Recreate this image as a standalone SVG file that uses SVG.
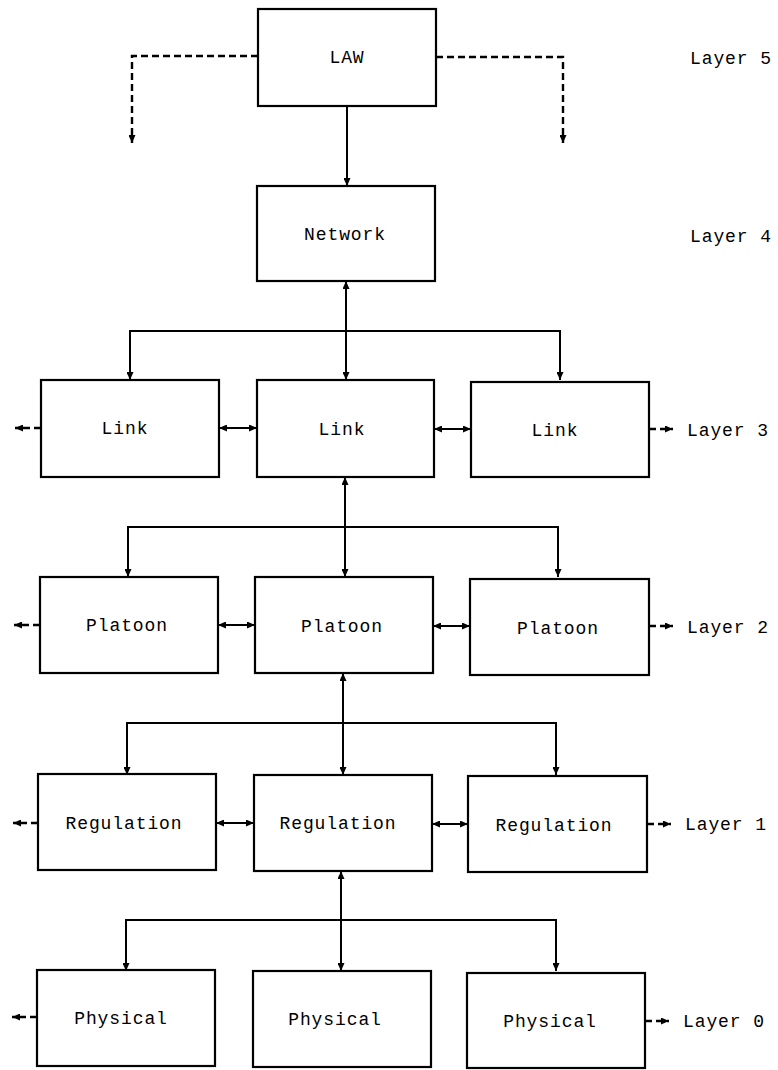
<svg xmlns="http://www.w3.org/2000/svg" width="778" height="1070" viewBox="0 0 778 1070">
  <defs>
    <style>
      .box { fill: #fff; stroke: #000; stroke-width: 2.2; }
      .lbl { font-family: "Liberation Mono", "DejaVu Sans Mono", monospace; font-size: 18px; letter-spacing: 0.9px; fill: #000; text-anchor: middle; }
      .lay { font-family: "Liberation Mono", "DejaVu Sans Mono", monospace; font-size: 18px; letter-spacing: 0.9px; fill: #000; }
      .wire { fill: none; stroke: #000; stroke-width: 2; }
      .dash { fill: none; stroke: #000; stroke-width: 2.4; stroke-dasharray: 7 4; }
    </style>
    <marker id="arr" viewBox="0 0 8 7" refX="8" refY="3.5" markerWidth="8" markerHeight="7" markerUnits="userSpaceOnUse" orient="auto-start-reverse">
      <path d="M0,0 L8,3.5 L0,7 z" fill="#000"/>
    </marker>
  </defs>
  <rect width="778" height="1070" fill="#fff"/>

  <!-- connectors -->
  <g id="connectors">
    <!-- layer 5 to layer 4 -->
    <line class="wire" x1="347" y1="106" x2="347" y2="186" marker-end="url(#arr)"/>
    <!-- dashed outputs from LAW -->
    <path class="dash" d="M258,56 H132 V143" marker-end="url(#arr)"/>
    <path class="dash" d="M436,57 H563 V143" marker-end="url(#arr)"/>

    <!-- Network to Link row -->
    <line class="wire" x1="346" y1="281" x2="346" y2="380" marker-start="url(#arr)" marker-end="url(#arr)"/>
    <path class="wire" d="M130,380 V331 H560 V380"/>
    <line class="wire" x1="130" y1="350" x2="130" y2="380" marker-end="url(#arr)"/>
    <line class="wire" x1="560" y1="350" x2="560" y2="380" marker-end="url(#arr)"/>

    <!-- Link to Platoon row -->
    <line class="wire" x1="345" y1="477" x2="345" y2="577" marker-start="url(#arr)" marker-end="url(#arr)"/>
    <path class="wire" d="M128,577 V527 H558 V577"/>
    <line class="wire" x1="128" y1="550" x2="128" y2="577" marker-end="url(#arr)"/>
    <line class="wire" x1="558" y1="550" x2="558" y2="577" marker-end="url(#arr)"/>

    <!-- Platoon to Regulation row -->
    <line class="wire" x1="343" y1="673" x2="343" y2="775" marker-start="url(#arr)" marker-end="url(#arr)"/>
    <path class="wire" d="M127,775 V723 H556 V775"/>
    <line class="wire" x1="127" y1="750" x2="127" y2="775" marker-end="url(#arr)"/>
    <line class="wire" x1="556" y1="750" x2="556" y2="775" marker-end="url(#arr)"/>

    <!-- Regulation to Physical row -->
    <line class="wire" x1="341" y1="871" x2="341" y2="971" marker-start="url(#arr)" marker-end="url(#arr)"/>
    <path class="wire" d="M126,971 V920 H556 V971"/>
    <line class="wire" x1="126" y1="945" x2="126" y2="971" marker-end="url(#arr)"/>
    <line class="wire" x1="556" y1="945" x2="556" y2="971" marker-end="url(#arr)"/>

    <!-- peer links inside rows -->
    <line class="wire" x1="219" y1="428" x2="257" y2="428" marker-start="url(#arr)" marker-end="url(#arr)"/>
    <line class="wire" x1="434" y1="429" x2="471" y2="429" marker-start="url(#arr)" marker-end="url(#arr)"/>
    <line class="wire" x1="218" y1="625" x2="255" y2="625" marker-start="url(#arr)" marker-end="url(#arr)"/>
    <line class="wire" x1="433" y1="626" x2="470" y2="626" marker-start="url(#arr)" marker-end="url(#arr)"/>
    <line class="wire" x1="216" y1="823" x2="254" y2="823" marker-start="url(#arr)" marker-end="url(#arr)"/>
    <line class="wire" x1="432" y1="824" x2="468" y2="824" marker-start="url(#arr)" marker-end="url(#arr)"/>

    <!-- dashed neighbours, left side -->
    <line class="dash" x1="41" y1="428" x2="15" y2="428" marker-end="url(#arr)"/>
    <line class="dash" x1="40" y1="625" x2="14" y2="625" marker-end="url(#arr)"/>
    <line class="dash" x1="38" y1="823" x2="13" y2="823" marker-end="url(#arr)"/>
    <line class="dash" x1="37" y1="1017" x2="12" y2="1017" marker-end="url(#arr)"/>

    <!-- dashed neighbours, right side -->
    <line class="dash" x1="649" y1="429" x2="673" y2="429" marker-end="url(#arr)"/>
    <line class="dash" x1="649" y1="626" x2="673" y2="626" marker-end="url(#arr)"/>
    <line class="dash" x1="647" y1="824" x2="671" y2="824" marker-end="url(#arr)"/>
    <line class="dash" x1="645" y1="1021" x2="669" y2="1021" marker-end="url(#arr)"/>
  </g>

  <!-- layer 5 -->
  <g id="law"><rect class="box" x="258" y="9" width="178" height="97"/><text class="lbl" x="347" y="63">LAW</text></g>
  <!-- layer 4 -->
  <g id="network"><rect class="box" x="257" y="186" width="178" height="95"/><text class="lbl" x="345" y="240">Network</text></g>

  <!-- layer 3 -->
  <g id="link-left"><rect class="box" x="41" y="380" width="178" height="97"/><text class="lbl" x="125" y="434">Link</text></g>
  <g id="link-mid"><rect class="box" x="257" y="380" width="177" height="97"/><text class="lbl" x="342" y="435">Link</text></g>
  <g id="link-right"><rect class="box" x="471" y="382" width="178" height="95"/><text class="lbl" x="555" y="436">Link</text></g>

  <!-- layer 2 -->
  <g id="platoon-left"><rect class="box" x="40" y="577" width="178" height="96"/><text class="lbl" x="127" y="631">Platoon</text></g>
  <g id="platoon-mid"><rect class="box" x="255" y="577" width="178" height="96"/><text class="lbl" x="342" y="632">Platoon</text></g>
  <g id="platoon-right"><rect class="box" x="470" y="579" width="179" height="96"/><text class="lbl" x="558" y="634">Platoon</text></g>

  <!-- layer 1 -->
  <g id="regulation-left"><rect class="box" x="38" y="774" width="178" height="96"/><text class="lbl" x="124" y="829">Regulation</text></g>
  <g id="regulation-mid"><rect class="box" x="254" y="775" width="178" height="96"/><text class="lbl" x="338" y="829">Regulation</text></g>
  <g id="regulation-right"><rect class="box" x="468" y="776" width="179" height="96"/><text class="lbl" x="554" y="831">Regulation</text></g>

  <!-- layer 0 -->
  <g id="physical-left"><rect class="box" x="37" y="970" width="178" height="96"/><text class="lbl" x="121" y="1024">Physical</text></g>
  <g id="physical-mid"><rect class="box" x="253" y="971" width="178" height="96"/><text class="lbl" x="335" y="1025">Physical</text></g>
  <g id="physical-right"><rect class="box" x="467" y="973" width="178" height="95"/><text class="lbl" x="550" y="1027">Physical</text></g>

  <!-- layer captions -->
  <g id="layer-labels">
    <text class="lay" x="690" y="64">Layer 5</text>
    <text class="lay" x="690" y="242">Layer 4</text>
    <text class="lay" x="687" y="436">Layer 3</text>
    <text class="lay" x="687" y="633">Layer 2</text>
    <text class="lay" x="685" y="830">Layer 1</text>
    <text class="lay" x="683" y="1027">Layer 0</text>
  </g>
</svg>
